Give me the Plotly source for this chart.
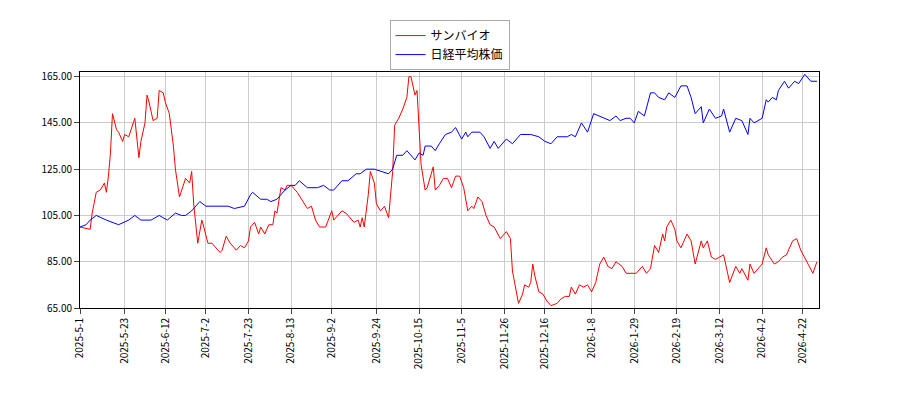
import plotly.graph_objects as go

red_dates = ["2025-05-01", "2025-05-06", "2025-05-07", "2025-05-09", "2025-05-11", "2025-05-13", "2025-05-14",
             "2025-05-15", "2025-05-16", "2025-05-17", "2025-05-19", "2025-05-20", "2025-05-22", "2025-05-23",
             "2025-05-25", "2025-05-27", "2025-05-28", "2025-05-30", "2025-05-31", "2025-06-02", "2025-06-03",
             "2025-06-04", "2025-06-06", "2025-06-08", "2025-06-09", "2025-06-11", "2025-06-12", "2025-06-14",
             "2025-06-16", "2025-06-17", "2025-06-19", "2025-06-22", "2025-06-24", "2025-06-25", "2025-06-26",
             "2025-06-28", "2025-06-30", "2025-07-01", "2025-07-03", "2025-07-05", "2025-07-09", "2025-07-10",
             "2025-07-12", "2025-07-14", "2025-07-17", "2025-07-19", "2025-07-21", "2025-07-23", "2025-07-24",
             "2025-07-26", "2025-07-28", "2025-07-29", "2025-07-31", "2025-08-02", "2025-08-04", "2025-08-05",
             "2025-08-06", "2025-08-08", "2025-08-10", "2025-08-11", "2025-08-13", "2025-08-16", "2025-08-21",
             "2025-08-23", "2025-08-25", "2025-08-27", "2025-08-30", "2025-09-02", "2025-09-03", "2025-09-07",
             "2025-09-09", "2025-09-13", "2025-09-15", "2025-09-16", "2025-09-17", "2025-09-18", "2025-09-20",
             "2025-09-21", "2025-09-23", "2025-09-24", "2025-09-26", "2025-09-28", "2025-09-30", "2025-10-02",
             "2025-10-03", "2025-10-05", "2025-10-07", "2025-10-09", "2025-10-10", "2025-10-11", "2025-10-13",
             "2025-10-14", "2025-10-15", "2025-10-16", "2025-10-18", "2025-10-19", "2025-10-22", "2025-10-23",
             "2025-10-25", "2025-10-27", "2025-10-29", "2025-10-31", "2025-11-02", "2025-11-04", "2025-11-06",
             "2025-11-08", "2025-11-10", "2025-11-11", "2025-11-13", "2025-11-15", "2025-11-17", "2025-11-19",
             "2025-11-21", "2025-11-24", "2025-11-26", "2025-11-27", "2025-11-29", "2025-11-30", "2025-12-03",
             "2025-12-05", "2025-12-06", "2025-12-08", "2025-12-09", "2025-12-10", "2025-12-11", "2025-12-13",
             "2025-12-15", "2025-12-17", "2025-12-19", "2025-12-22", "2025-12-24", "2025-12-26", "2025-12-28",
             "2025-12-29", "2025-12-31", "2026-01-02", "2026-01-04", "2026-01-06", "2026-01-08", "2026-01-10",
             "2026-01-12", "2026-01-14", "2026-01-16", "2026-01-18", "2026-01-20", "2026-01-23", "2026-01-25",
             "2026-01-28", "2026-01-30", "2026-02-02", "2026-02-04", "2026-02-06", "2026-02-08", "2026-02-10",
             "2026-02-12", "2026-02-13", "2026-02-14", "2026-02-16", "2026-02-18", "2026-02-19", "2026-02-21",
             "2026-02-24", "2026-02-26", "2026-02-28", "2026-03-02", "2026-03-03", "2026-03-04", "2026-03-06",
             "2026-03-08", "2026-03-10", "2026-03-12", "2026-03-14", "2026-03-15", "2026-03-17", "2026-03-20",
             "2026-03-22", "2026-03-23", "2026-03-26", "2026-03-27", "2026-03-29", "2026-03-30", "2026-04-02",
             "2026-04-04", "2026-04-05", "2026-04-08", "2026-04-10", "2026-04-12", "2026-04-14", "2026-04-17",
             "2026-04-19", "2026-04-21", "2026-04-24", "2026-04-27", "2026-04-29"]
red_values = [100, 99, 106, 115, 116, 119, 115,
              122, 132, 149, 142, 141, 137, 140,
              139, 144, 147, 130, 137, 145, 157,
              154, 146, 147, 159, 158, 154, 149,
              135, 125, 113, 121, 119, 124, 110,
              93, 103, 100, 93, 93, 89, 90,
              96, 93, 90, 92, 91, 94, 100,
              102, 97, 100, 97, 101, 101, 107,
              106, 117, 116, 118, 118, 115, 108,
              109, 103, 100, 100, 107, 103, 107,
              106, 102, 103, 100, 104, 100, 114,
              124, 119, 110, 107, 109, 104, 124,
              144, 147, 151, 156, 165, 165, 157,
              159, 144, 127, 116, 117, 126, 116,
              118, 121, 121, 117, 122, 122, 117,
              107, 109, 108, 113, 111, 105, 101,
              100, 95, 97, 98, 95, 81, 67,
              71, 75, 74, 76, 84, 79, 72,
              71, 68, 66, 67, 69, 70, 70,
              74, 71, 75, 74, 75, 72, 76,
              84, 87, 83, 82, 85, 83, 80,
              80, 80, 83, 80, 82, 92, 89,
              97, 94, 100, 103, 99, 94, 91,
              97, 94, 84, 90, 94, 91, 94,
              87, 86, 87, 88, 84, 76, 83,
              80, 82, 77, 84, 80, 81, 84,
              91, 88, 84, 85, 87, 88, 94,
              95, 90, 85, 80, 85]

blue_dates = ["2025-05-01", "2025-05-04", "2025-05-06", "2025-05-09", "2025-05-14", "2025-05-20", "2025-05-25",
              "2025-05-28", "2025-05-31", "2025-06-04", "2025-06-05", "2025-06-09", "2025-06-13", "2025-06-17",
              "2025-06-20", "2025-06-22", "2025-06-25", "2025-06-29", "2025-07-02", "2025-07-09", "2025-07-13",
              "2025-07-16", "2025-07-21", "2025-07-24", "2025-07-25", "2025-07-29", "2025-08-01", "2025-08-03",
              "2025-08-06", "2025-08-10", "2025-08-13", "2025-08-15", "2025-08-17", "2025-08-21", "2025-08-26",
              "2025-08-29", "2025-09-01", "2025-09-03", "2025-09-07", "2025-09-10", "2025-09-14", "2025-09-16",
              "2025-09-19", "2025-09-23", "2025-09-26", "2025-09-30", "2025-10-02", "2025-10-04", "2025-10-07",
              "2025-10-09", "2025-10-13", "2025-10-15", "2025-10-17", "2025-10-18", "2025-10-21", "2025-10-23",
              "2025-10-25", "2025-10-28", "2025-10-31", "2025-11-02", "2025-11-05", "2025-11-07", "2025-11-08",
              "2025-11-10", "2025-11-14", "2025-11-16", "2025-11-19", "2025-11-21", "2025-11-23", "2025-11-27",
              "2025-11-30", "2025-12-04", "2025-12-09", "2025-12-13", "2025-12-16", "2025-12-19", "2025-12-22",
              "2025-12-27", "2025-12-29", "2025-12-31", "2026-01-03", "2026-01-06", "2026-01-09", "2026-01-12",
              "2026-01-17", "2026-01-20", "2026-01-22", "2026-01-25", "2026-01-27", "2026-01-29", "2026-01-31",
              "2026-02-03", "2026-02-06", "2026-02-08", "2026-02-10", "2026-02-13", "2026-02-15", "2026-02-18",
              "2026-02-21", "2026-02-24", "2026-02-26", "2026-02-28", "2026-03-03", "2026-03-04", "2026-03-07",
              "2026-03-10", "2026-03-13", "2026-03-14", "2026-03-17", "2026-03-20", "2026-03-23", "2026-03-26",
              "2026-03-27", "2026-03-29", "2026-04-02", "2026-04-04", "2026-04-05", "2026-04-07", "2026-04-09",
              "2026-04-10", "2026-04-13", "2026-04-15", "2026-04-18", "2026-04-20", "2026-04-23", "2026-04-26",
              "2026-04-29"]
blue_values = [100, 101, 103, 105, 103, 101, 103,
               105, 103, 103, 103, 105, 103, 106,
               105, 105, 107, 111, 109, 109, 109,
               108, 109, 114, 115, 112, 112, 111,
               112, 116, 118, 118, 120, 117, 117,
               118, 116, 116, 120, 120, 123, 123,
               125, 125, 124, 123, 125, 131, 131,
               133, 129, 132, 131, 135, 135, 133,
               136, 140, 141, 143, 138, 141, 139,
               141, 141, 139, 134, 137, 134, 138,
               136, 140, 140, 139, 137, 136, 139,
               139, 140, 139, 145, 141, 149, 148,
               146, 148, 146, 147, 147, 145, 150,
               148, 158, 158, 156, 155, 158, 156,
               161, 161, 156, 149, 152, 145, 151,
               147, 148, 151, 141, 147, 146, 140,
               147, 145, 147, 155, 154, 156, 155,
               159, 163, 160, 163, 162, 166, 163,
               163]

tick_vals = ["2025-05-01", "2025-05-23", "2025-06-12", "2025-07-02", "2025-07-23", "2025-08-13",
             "2025-09-02", "2025-09-24", "2025-10-15", "2025-11-05", "2025-11-26", "2025-12-16",
             "2026-01-08", "2026-01-29", "2026-02-19", "2026-03-12", "2026-04-02", "2026-04-22"]
tick_text = [d[:5] + str(int(d[5:7])) + "-" + str(int(d[8:])) for d in tick_vals]

fig = go.Figure()
fig.add_trace(go.Scatter(x=red_dates, y=red_values, name="サンバイオ", mode="lines",
                         line=dict(color="#ff0000", width=1)))
fig.add_trace(go.Scatter(x=blue_dates, y=blue_values, name="日経平均株価", mode="lines",
                         line=dict(color="#0000ff", width=1)))

axis_common = dict(showline=True, linecolor="black", mirror=True, ticks="outside",
                   gridcolor="#cccccc", zeroline=False, tickfont=dict(size=10, color="black"))
fig.update_layout(
    width=900, height=400,
    margin=dict(l=72, r=89, t=62, b=100),
    plot_bgcolor="white", paper_bgcolor="white",
    font=dict(family="Noto Sans CJK JP, DejaVu Sans", size=11, color="black"),
    legend=dict(x=0.5, y=1.22, xanchor="center", yanchor="top", bordercolor="#aaaaaa",
                borderwidth=1, font=dict(size=12), tracegroupgap=0),
    xaxis=dict(range=["2025-05-01", "2026-04-30"], tickvals=tick_vals, ticktext=tick_text,
               tickangle=-90, **axis_common),
    yaxis=dict(range=[65, 167], tickvals=[65, 85, 105, 125, 145, 165], tickformat=".2f",
               **axis_common),
)

fig.write_html("out.html")
